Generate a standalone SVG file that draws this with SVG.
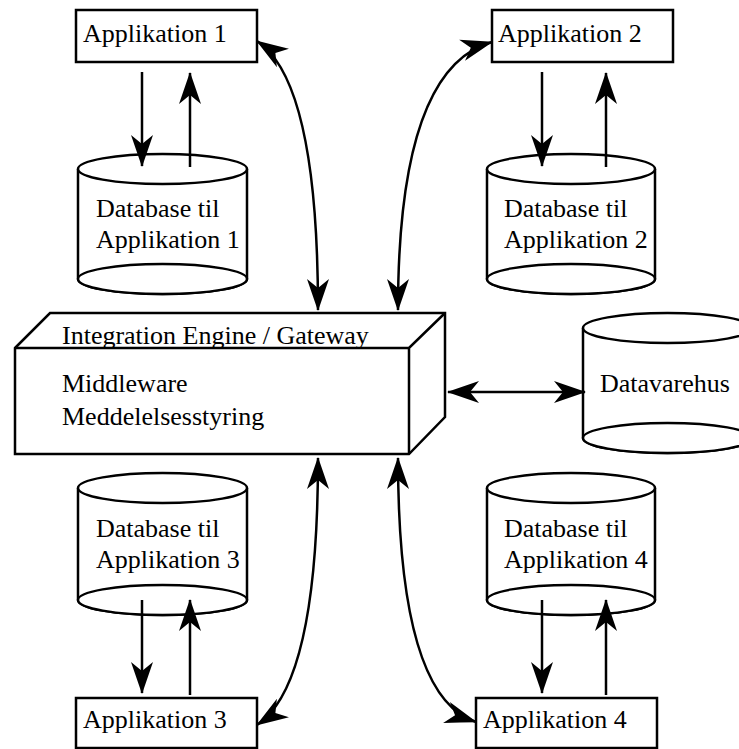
<svg xmlns="http://www.w3.org/2000/svg" width="739" height="749" viewBox="0 0 739 749">
<defs>
<style>
.box{fill:#fff;stroke:#000;stroke-width:2.5}
.db{fill:#fff;stroke:#000;stroke-width:2.5}
.t{font-family:"Liberation Serif","Times New Roman",serif;font-size:26px;fill:#000}
.c{fill:none;stroke:#000;stroke-width:2.5}
</style>
<marker id="ah" viewBox="-34 -12 36 24" refX="0" refY="0" markerWidth="36" markerHeight="24" markerUnits="userSpaceOnUse" orient="auto-start-reverse">
<path d="M1,0 Q-15,-5.5 -31,-11 L-22,0 L-31,11 Q-15,5.5 1,0 Z" fill="#000"/>
</marker>
</defs>
<rect width="739" height="749" fill="#fff"/>

<g id="app1">
<rect class="box" x="76" y="10" width="181" height="52"/>
<text class="t" x="83" y="42">Applikation 1</text>
</g>
<g id="app2">
<rect class="box" x="492" y="10" width="181" height="52"/>
<text class="t" x="498" y="42">Applikation 2</text>
</g>
<g id="app3">
<rect class="box" x="76" y="698" width="181" height="50"/>
<text class="t" x="83" y="728">Applikation 3</text>
</g>
<g id="app4">
<rect class="box" x="476" y="698" width="181" height="50"/>
<text class="t" x="483" y="728">Applikation 4</text>
</g>

<g id="db1">
<path class="db" d="M78,169 L78,279 A84.5,15 0 0 0 247,279 L247,169"/>
<ellipse class="db" cx="162.5" cy="169" rx="84.5" ry="15"/>
<ellipse class="db" cx="162.5" cy="279" rx="84.5" ry="15"/>
<text class="t" x="96" y="217">Database til</text>
<text class="t" x="96" y="248">Applikation 1</text>
</g>
<g id="db2">
<path class="db" d="M487,169 L487,279 A84,15 0 0 0 655,279 L655,169"/>
<ellipse class="db" cx="571" cy="169" rx="84" ry="15"/>
<ellipse class="db" cx="571" cy="279" rx="84" ry="15"/>
<text class="t" x="504" y="217">Database til</text>
<text class="t" x="504" y="248">Applikation 2</text>
</g>
<g id="db3">
<path class="db" d="M78,488 L78,600 A84.5,15 0 0 0 247,600 L247,488"/>
<ellipse class="db" cx="162.5" cy="488" rx="84.5" ry="15"/>
<ellipse class="db" cx="162.5" cy="600" rx="84.5" ry="15"/>
<text class="t" x="96" y="537">Database til</text>
<text class="t" x="96" y="568">Applikation 3</text>
</g>
<g id="db4">
<path class="db" d="M487,488 L487,600 A84,15 0 0 0 655,600 L655,488"/>
<ellipse class="db" cx="571" cy="488" rx="84" ry="15"/>
<ellipse class="db" cx="571" cy="600" rx="84" ry="15"/>
<text class="t" x="504" y="537">Database til</text>
<text class="t" x="504" y="568">Applikation 4</text>
</g>
<g id="datavarehus">
<path class="db" d="M583,328 L583,438 A84.5,15 0 0 0 752,438 L752,328"/>
<ellipse class="db" cx="667.5" cy="328" rx="84.5" ry="15"/>
<ellipse class="db" cx="667.5" cy="438" rx="84.5" ry="15"/>
<text class="t" x="600" y="392">Datavarehus</text>
</g>

<g id="gateway">
<path class="box" d="M15,348 L50,313 L445,313 L445,417 L409,454 L15,454 Z"/>
<path class="c" d="M15,348 L409,348 L445,313 M409,348 L409,454"/>
<text class="t" x="62" y="344">Integration Engine / Gateway</text>
<text class="t" x="62" y="392">Middleware</text>
<text class="t" x="62" y="425">Meddelelsesstyring</text>
</g>

<g id="connectors">
<path class="c" d="M142,72 L142,166" marker-end="url(#ah)"/>
<path class="c" d="M190,167 L190,73" marker-end="url(#ah)"/>
<path class="c" d="M542,72 L542,166" marker-end="url(#ah)"/>
<path class="c" d="M606,167 L606,73" marker-end="url(#ah)"/>
<path class="c" d="M142,600 L142,693" marker-end="url(#ah)"/>
<path class="c" d="M190,695 L190,600" marker-end="url(#ah)"/>
<path class="c" d="M542,600 L542,693" marker-end="url(#ah)"/>
<path class="c" d="M606,695 L606,600" marker-end="url(#ah)"/>
<path class="c" d="M257,41 Q318,81 318,310" marker-start="url(#ah)" marker-end="url(#ah)"/>
<path class="c" d="M398,310 Q398,68 492,42" marker-start="url(#ah)" marker-end="url(#ah)"/>
<path class="c" d="M318,458 Q318,685 257,725" marker-start="url(#ah)" marker-end="url(#ah)"/>
<path class="c" d="M398,458 Q398,697 476,722" marker-start="url(#ah)" marker-end="url(#ah)"/>
<path class="c" d="M448,392 L585,392" marker-start="url(#ah)" marker-end="url(#ah)"/>
</g>
</svg>
